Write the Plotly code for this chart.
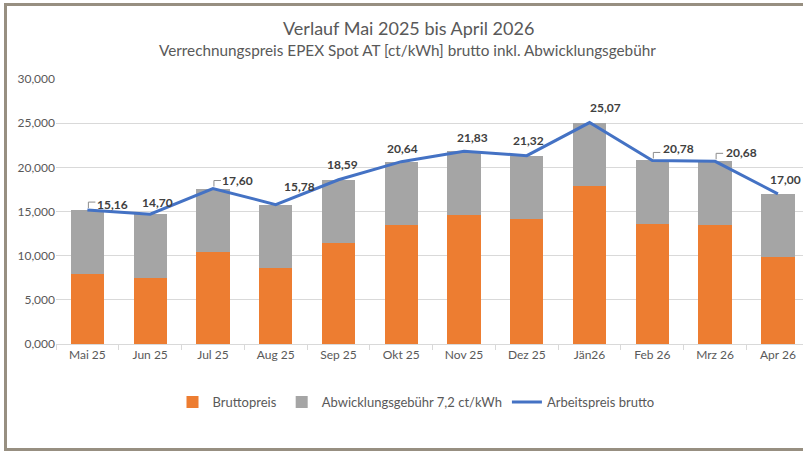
import plotly.graph_objects as go

months = ["Mai 25", "Jun 25", "Jul 25", "Aug 25", "Sep 25", "Okt 25",
          "Nov 25", "Dez 25", "Jän26", "Feb 26", "Mrz 26", "Apr 26"]
fee = 7.2
totals = [15.16, 14.70, 17.60, 15.78, 18.59, 20.64, 21.83, 21.32, 25.07, 20.78, 20.68, 17.00]
brutto = [round(t - fee, 2) for t in totals]
fees = [fee] * len(months)

# label offsets in pixels (style), and which labels have leader lines
label_dx = [25, 7, 25, 24, 4, 1, 8, 2, 16, 26, 26, 8]
label_dy = [6, 12, 8, 18, 15, 13, 14, 15, 15, 12, 9, 14]
leader = [True, False, True, False, False, False, False, False, False, True, True, False]

W, H = 803, 453
ML, MR, MT, MB = 56, 0, 79, 109
PW, PH = W - ML - MR, H - MT - MB

def px(x):
    return (x - ML) / PW

def py(y):
    return (H - MB - y) / PH

TXT = "#595959"
FONT = "Lato"

fig = go.Figure()
fig.add_bar(x=months, y=brutto, name="Bruttopreis", marker_color="#ED7D31",
            marker_line_width=0)
fig.add_bar(x=months, y=fees, name="Abwicklungsgebühr 7,2 ct/kWh", marker_color="#A5A5A5",
            marker_line_width=0)
fig.add_scatter(x=months, y=totals, mode="lines", name="Arbeitspreis brutto",
                line=dict(color="#4472C4", width=3))

annotations = [
    dict(text="Verlauf Mai 2025 bis April 2026", x=px(408), y=py(28), xref="paper", yref="paper",
         showarrow=False, font=dict(family=FONT, size=18, color=TXT), xanchor="center", yanchor="middle"),
    dict(text="Verrechnungspreis EPEX Spot AT [ct/kWh] brutto inkl. Abwicklungsgebühr",
         x=px(407), y=py(50), xref="paper", yref="paper", showarrow=False,
         font=dict(family=FONT, size=15.3, color=TXT), xanchor="center", yanchor="middle"),
]
shapes = []
for i, (m, t) in enumerate(zip(months, totals)):
    annotations.append(dict(text=f"{t:.2f}".replace(".", ","), x=m, y=t, xref="x", yref="y",
                            showarrow=False, xshift=label_dx[i], yshift=label_dy[i],
                            font=dict(family=FONT, size=12, color="#404040", weight="bold")))
    if leader[i]:
        shapes.append(dict(type="path", xref="x", yref="y", xsizemode="pixel", ysizemode="pixel",
                           xanchor=m, yanchor=t, path="M1,2 L1,8 L8,8",
                           line=dict(color="#8C8C8C", width=1)))

# outer frame
frame_col = "#978F81"
shapes += [
    dict(type="line", xref="paper", yref="paper", x0=px(5.5), x1=px(5.5), y0=py(4.5), y1=py(449.5),
         line=dict(color=frame_col, width=3)),
    dict(type="line", xref="paper", yref="paper", x0=px(4), x1=px(810), y0=py(4.5), y1=py(4.5),
         line=dict(color=frame_col, width=3)),
    dict(type="line", xref="paper", yref="paper", x0=px(4), x1=px(810), y0=py(449.5), y1=py(449.5),
         line=dict(color=frame_col, width=3)),
]

fig.update_layout(
    width=W, height=H, barmode="stack", bargap=0.47,
    margin=dict(l=ML, r=MR, t=MT, b=MB, pad=0, autoexpand=False),
    paper_bgcolor="white", plot_bgcolor="white",
    separators=",.",
    font=dict(family=FONT, size=12, color=TXT),
    annotations=annotations, shapes=shapes,
    showlegend=True,
    legend=dict(orientation="h", x=px(416), xanchor="center", y=py(402), yanchor="middle",
                font=dict(family=FONT, size=13, color=TXT), traceorder="normal"),
)
fig.update_yaxes(range=[0, 30], dtick=5, tickformat=".3f", showgrid=True, gridcolor="#D9D9D9",
                 gridwidth=1, zeroline=False, showline=False, ticks="",
                 tickfont=dict(family=FONT, size=12, color=TXT))
fig.update_xaxes(range=[-0.5, 11.4],
                 showline=True, linecolor="#D9D9D9", linewidth=1,
                 ticks="outside", tickson="boundaries", ticklen=5, tickcolor="#D9D9D9",
                 tickfont=dict(family=FONT, size=12, color=TXT))

fig.write_html("out.html", config={"displayModeBar": False},
               post_script="document.body.style.margin='0';document.body.style.overflow='hidden';")
